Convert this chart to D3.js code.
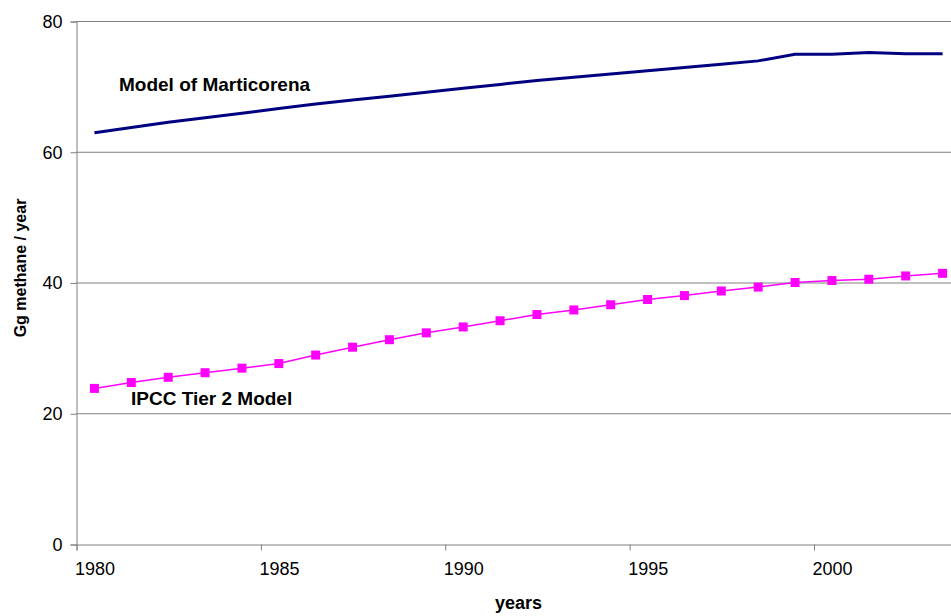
<!DOCTYPE html>
<html>
<head>
<meta charset="utf-8">
<script src="https://cdn.jsdelivr.net/npm/d3@7"></script>
<style>
  body { margin: 0; background: #fff; }
  svg { display: block; font-family: Arial, "Liberation Sans", sans-serif; }
</style>
</head>
<body>
<div id="chart"></div>
<script>

// data (values plotted at mid-year)
var years = [1980.5, 1981.5, 1982.5, 1983.5, 1984.5, 1985.5, 1986.5, 1987.5, 1988.5, 1989.5,
             1990.5, 1991.5, 1992.5, 1993.5, 1994.5, 1995.5, 1996.5, 1997.5, 1998.5, 1999.5,
             2000.5, 2001.5, 2002.5, 2003.5];
var marticorena = [62.9, 63.7, 64.5, 65.2, 65.9, 66.6, 67.3, 67.9, 68.5, 69.1,
                   69.7, 70.3, 70.9, 71.4, 71.9, 72.4, 72.9, 73.4, 73.9, 74.9,
                   74.9, 75.2, 75.0, 75.0];
var ipcc = [23.8, 24.7, 25.5, 26.2, 26.9, 27.6, 28.9, 30.1, 31.25, 32.3,
            33.2, 34.15, 35.1, 35.8, 36.6, 37.4, 38.0, 38.7, 39.3, 40.0,
            40.3, 40.5, 41.0, 41.4];
var xTicks = [1980, 1985, 1990, 1995, 2000];
var yTicks = [0, 20, 40, 60, 80];
var seriesNames = ["Model of Marticorena", "IPCC Tier 2 Model"];

var width = 951, height = 616;
var margin = {left: 76, right: -10, top: 21, bottom: 72};

var svg = d3.select("#chart").append("svg")
  .attr("width", width)
  .attr("height", height);

var x = d3.scaleLinear()
  .domain([1980, 2004])
  .range([margin.left, width - margin.right]);

var y = d3.scaleLinear()
  .domain([0, 80])
  .range([height - margin.bottom, margin.top]);

var axisColor = "#808080";

// gridlines
svg.append("g")
  .selectAll("line")
  .data(yTicks.filter(function(d) { return d > 0; }))
  .enter().append("line")
  .attr("x1", x(1980)).attr("x2", width)
  .attr("y1", function(d) { return y(d) + 0.5; })
  .attr("y2", function(d) { return y(d) + 0.5; })
  .attr("stroke", axisColor)
  .attr("stroke-width", 1);

// y axis
var yAxis = svg.append("g")
  .attr("transform", "translate(" + (x(1980) + 0.5) + ",0.5)")
  .call(d3.axisLeft(y).tickValues(yTicks).tickSize(6).tickPadding(8));

// x axis, labels start at the tick like the reference
var xAxis = svg.append("g")
  .attr("transform", "translate(0.5," + (y(0) + 0.5) + ")")
  .call(d3.axisBottom(x).tickValues(xTicks).tickFormat(d3.format("d")).tickSize(6).tickPadding(12));

[yAxis, xAxis].forEach(function(a) {
  a.select(".domain").attr("stroke", axisColor);
  a.selectAll(".tick line").attr("stroke", axisColor);
  a.selectAll("text")
    .attr("font-family", "Arial, 'Liberation Sans', sans-serif")
    .attr("font-size", "18px")
    .attr("fill", "#000");
});
xAxis.selectAll("text").attr("text-anchor", "start").attr("dx", "-2");

// Marticorena line
svg.append("path")
  .datum(years.map(function(d, i) { return [d, marticorena[i]]; }))
  .attr("fill", "none")
  .attr("stroke", "#000080")
  .attr("stroke-width", 3)
  .attr("d", d3.line()
    .x(function(d) { return x(d[0]); })
    .y(function(d) { return y(d[1]); }));

// IPCC line + square markers
var ipccData = years.map(function(d, i) { return [d, ipcc[i]]; });
svg.append("path")
  .datum(ipccData)
  .attr("fill", "none")
  .attr("stroke", "#ff00ff")
  .attr("stroke-width", 1.5)
  .attr("d", d3.line()
    .x(function(d) { return x(d[0]); })
    .y(function(d) { return y(d[1]); }));

var m = 9;
svg.append("g")
  .selectAll("rect")
  .data(ipccData)
  .enter().append("rect")
  .attr("x", function(d) { return x(d[0]) - m / 2; })
  .attr("y", function(d) { return y(d[1]) - m / 2; })
  .attr("width", m)
  .attr("height", m)
  .attr("fill", "#ff00ff");

// series labels
svg.append("text")
  .attr("x", 119).attr("y", 91)
  .attr("font-size", "19px").attr("font-weight", "bold")
  .text(seriesNames[0]);

svg.append("text")
  .attr("x", 131).attr("y", 405)
  .attr("font-size", "19px").attr("font-weight", "bold")
  .text(seriesNames[1]);

// axis titles
svg.append("text")
  .attr("x", (x(1980) + x(2004)) / 2).attr("y", 609)
  .attr("text-anchor", "middle")
  .attr("font-size", "18px").attr("font-weight", "bold")
  .text("years");

svg.append("text")
  .attr("transform", "translate(26,268) rotate(-90)")
  .attr("text-anchor", "middle")
  .attr("font-size", "16px").attr("font-weight", "bold")
  .text("Gg methane / year");

</script>
</body>
</html>
